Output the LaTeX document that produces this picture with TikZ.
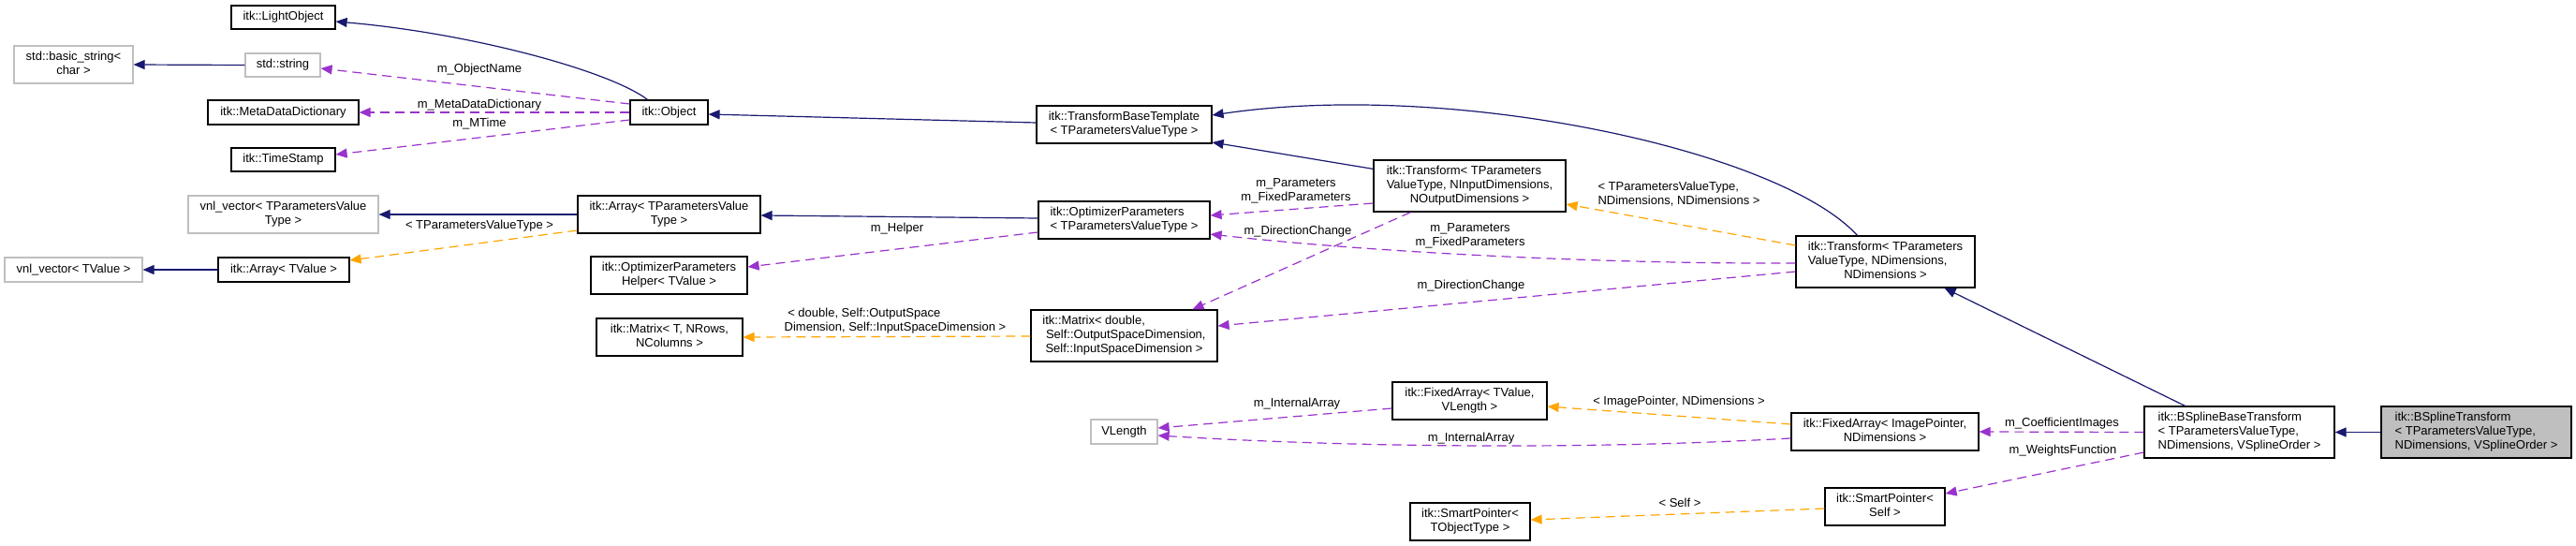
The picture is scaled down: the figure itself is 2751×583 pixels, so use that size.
\documentclass[tikz,border=0pt]{standalone}
\usepackage{fontspec}
\setmainfont{Liberation Sans}
\usetikzlibrary{arrows.meta,calc}
\definecolor{mblue}{HTML}{191970}
\definecolor{dorchid}{HTML}{9A32CD}
\definecolor{dorange}{HTML}{FFA500}
\definecolor{gsev}{HTML}{BFBFBF}
\newcommand\mlines[2]{\begin{tabular}{@{}l@{}}#1\\\multicolumn{1}{@{}c@{}}{#2}\end{tabular}}
\begin{document}
\begin{tikzpicture}[x=1pt,y=-1pt,
  txt/.style={font=\fontsize{13}{15}\selectfont},
  box/.style={txt,draw=black,line width=1.2pt,inner sep=0pt,align=center},
  gbox/.style={box,draw=gsev},
  selbox/.style={box,fill=gsev},
  sz/.style 2 args={minimum width=#1pt,minimum height=#2pt},
  tip/.style={-{Triangle[length=12pt,width=10pt]}},
  inh/.style={tip,draw=mblue,line width=1.2pt},
  use/.style={tip,draw=dorchid,line width=1.2pt,dash pattern=on 10pt off 6pt},
  tpl/.style={tip,draw=dorange,line width=1.2pt,dash pattern=on 10pt off 6pt},
  lbl/.style={txt,inner sep=0pt,align=center}]
\useasboundingbox (0,0) rectangle (2751,583);
\fill[white] (0,0) rectangle (2751,583);

% nodes
\node[box,sz={111}{25}]  (lightobj)  at (302.5,18.5) {itk::LightObject};
\node[gbox,sz={127}{40}] (bstring)   at (78.5,69)    {\mlines{std::basic\_string<}{char >}};
\node[gbox,sz={80}{25}]  (stdstring) at (302,69.5)   {std::string};
\node[box,sz={161}{26}]  (mdd)       at (302.5,120)  {itk::MetaDataDictionary};
\node[box,sz={111}{25}]  (timestamp) at (302.5,170.5){itk::TimeStamp};
\node[box,sz={83}{26}]   (object)    at (714.5,120)  {itk::Object};
\node[box,sz={187}{40}]  (tbt)       at (1200.5,133) {\mlines{itk::TransformBaseTemplate}{< TParametersValueType >}};
\node[gbox,sz={203}{40}] (vnlP)      at (302.5,229)  {\mlines{vnl\_vector< TParametersValue}{Type >}};
\node[box,sz={195}{40}]  (arrP)      at (714.5,229)  {\mlines{itk::Array< TParametersValue}{Type >}};
\node[box,sz={183}{40}]  (optP)      at (1200.5,235) {\mlines{itk::OptimizerParameters}{< TParametersValueType >}};
\node[box,sz={205}{55}]  (trIn)      at (1569.5,198.5) {\mlines{itk::Transform< TParameters\\ValueType, NInputDimensions,}{NOutputDimensions >}};
\node[gbox,sz={147}{26}] (vnlV)      at (78.5,288)   {vnl\_vector< TValue >};
\node[box,sz={140}{26}]  (arrV)      at (303,288)    {itk::Array< TValue >};
\node[box,sz={167}{40}]  (optH)      at (714.5,294)  {\mlines{itk::OptimizerParameters}{Helper< TValue >}};
\node[box,sz={156}{40}]  (matT)      at (715,360)    {\mlines{itk::Matrix< T, NRows,}{NColumns >}};
\node[box,sz={199}{55}]  (matD)      at (1200.5,358.5) {\mlines{itk::Matrix< double,\\\ Self::OutputSpaceDimension,}{Self::InputSpaceDimension >}};
\node[box,sz={191}{55}]  (trN)       at (2013.5,279.5) {\mlines{itk::Transform< TParameters\\ValueType, NDimensions,}{NDimensions >}};
\node[gbox,sz={71}{26}]  (vlen)      at (1200.5,461) {VLength};
\node[box,sz={165}{40}]  (faT)       at (1569.5,428) {\mlines{itk::FixedArray< TValue,}{VLength >}};
\node[box,sz={200}{40}]  (faI)       at (2013,461)   {\mlines{itk::FixedArray< ImagePointer,}{NDimensions >}};
\node[box,sz={128}{40}]  (spT)       at (1570,557)   {\mlines{itk::SmartPointer<}{TObjectType >}};
\node[box,sz={128}{40}]  (spS)       at (2013,541)   {\mlines{itk::SmartPointer<}{Self >}};
\node[box,sz={203}{55}]  (bbt)       at (2391.5,461.5) {\mlines{itk::BSplineBaseTransform\\< TParametersValueType,}{NDimensions, VSplineOrder >}};
\node[selbox,sz={203}{55}] (bst)     at (2644.5,461.5) {\mlines{itk::BSplineTransform\\< TParametersValueType,}{NDimensions, VSplineOrder >}};

% inheritance
\draw[inh] (stdstring.west) -- (bstring.east);
\draw[inh] ($(object.north)+(-23,0)$) .. controls (650,75) and (500,35) .. ($(lightobj.east)+(0,4.5)$);
\draw[inh] ($(tbt.west)+(0,-2)$) -- ($(object.east)+(0,2)$);
\draw[inh] ($(trIn.north west)+(0,10)$) -- ($(tbt.east)+(0,19)$);
\draw[inh] ($(trN.north)+(-30,0)$) .. controls (1900,160) and (1550,85) .. ($(tbt.east)+(0,-10)$);
\draw[inh] (arrP.west) -- (vnlP.east);
\draw[inh] ($(optP.west)+(0,-2)$) -- ($(arrP.east)+(0,1)$);
\draw[inh] (arrV.west) -- (vnlV.east);
\draw[inh] ($(bbt.north)+(-58,0)$) -- ($(trN.south)+(63,0)$);
\draw[inh] (bst.west) -- (bbt.east);

% usage
\draw[use] ($(object.west)+(0,-9)$) -- ($(stdstring.east)+(0,3.5)$);
\node[lbl] (l1) at (512,74) {m\_ObjectName};
\draw[use] (object.west) -- (mdd.east);
\node[lbl] (l2) at (512,112) {m\_MetaDataDictionary};
\draw[use] ($(object.west)+(0,8)$) -- ($(timestamp.east)+(0,-5.5)$);
\node[lbl] (l3) at (512,132) {m\_MTime};
\draw[use] ($(optP.west)+(0,13)$) -- ($(optH.east)+(0,-9)$);
\node[lbl] (l4) at (958,244) {m\_Helper};
\draw[use] ($(trIn.west)+(0,18.5)$) -- ($(optP.east)+(0,-5)$);
\node[lbl] (l5) at (1384,204) {m\_Parameters\\m\_FixedParameters};
\draw[use] ($(trIn.south)+(-63,0)$) -- ($(matD.north)+(73,0)$);
\node[lbl] (l6) at (1386,247) {m\_DirectionChange};
\draw[use] ($(trN.west)+(0,1.5)$) .. controls (1700,282) and (1450,268) .. ($(optP.east)+(0,15)$);
\node[lbl] (l7) at (1570,252) {m\_Parameters\\m\_FixedParameters};
\draw[use] ($(trN.west)+(0,10.5)$) -- ($(matD.east)+(0,-10.5)$);
\node[lbl] (l8) at (1571,305) {m\_DirectionChange};
\draw[use] ($(faT.west)+(0,8)$) -- ($(vlen.east)+(0,-4)$);
\node[lbl] (l9) at (1385,431) {m\_InternalArray};
\draw[use] ($(faI.west)+(0,7)$) .. controls (1700,480) and (1450,478) .. ($(vlen.east)+(0,4)$);
\node[lbl] (l10) at (1571,468) {m\_InternalArray};
\draw[use] (bbt.west) -- (faI.east);
\node[lbl] (l11) at (2202,452) {m\_CoefficientImages};
\draw[use] ($(bbt.west)+(0,21.5)$) -- ($(spS.east)+(0,-14)$);
\node[lbl] (l12) at (2203,481) {m\_WeightsFunction};

% template instances
\draw[tpl] ($(arrP.west)+(0,17)$) -- ($(arrV.east)+(0,-10)$);
\node[lbl] (t1) at (512,241) {< TParametersValueType >};
\draw[tpl] ($(trN.west)+(0,-17.5)$) -- ($(trIn.east)+(0,19.5)$);
\node[lbl,align=left] (t2) at (1793,207) {< TParametersValueType,\\NDimensions, NDimensions >};
\draw[tpl] ($(matD.west)+(0,0.5)$) -- (matT.east);
\node[lbl,align=left] (t3) at (956,343) {\ < double, Self::OutputSpace\\Dimension, Self::InputSpaceDimension >};
\draw[tpl] ($(faI.west)+(0,-8)$) -- ($(faT.east)+(0,6)$);
\node[lbl] (t4) at (1793,429) {< ImagePointer, NDimensions >};
\draw[tpl] ($(spS.west)+(0,2)$) -- ($(spT.east)+(0,-2)$);
\node[lbl] (t5) at (1794,537) {< Self >};
\end{tikzpicture}
\end{document}
